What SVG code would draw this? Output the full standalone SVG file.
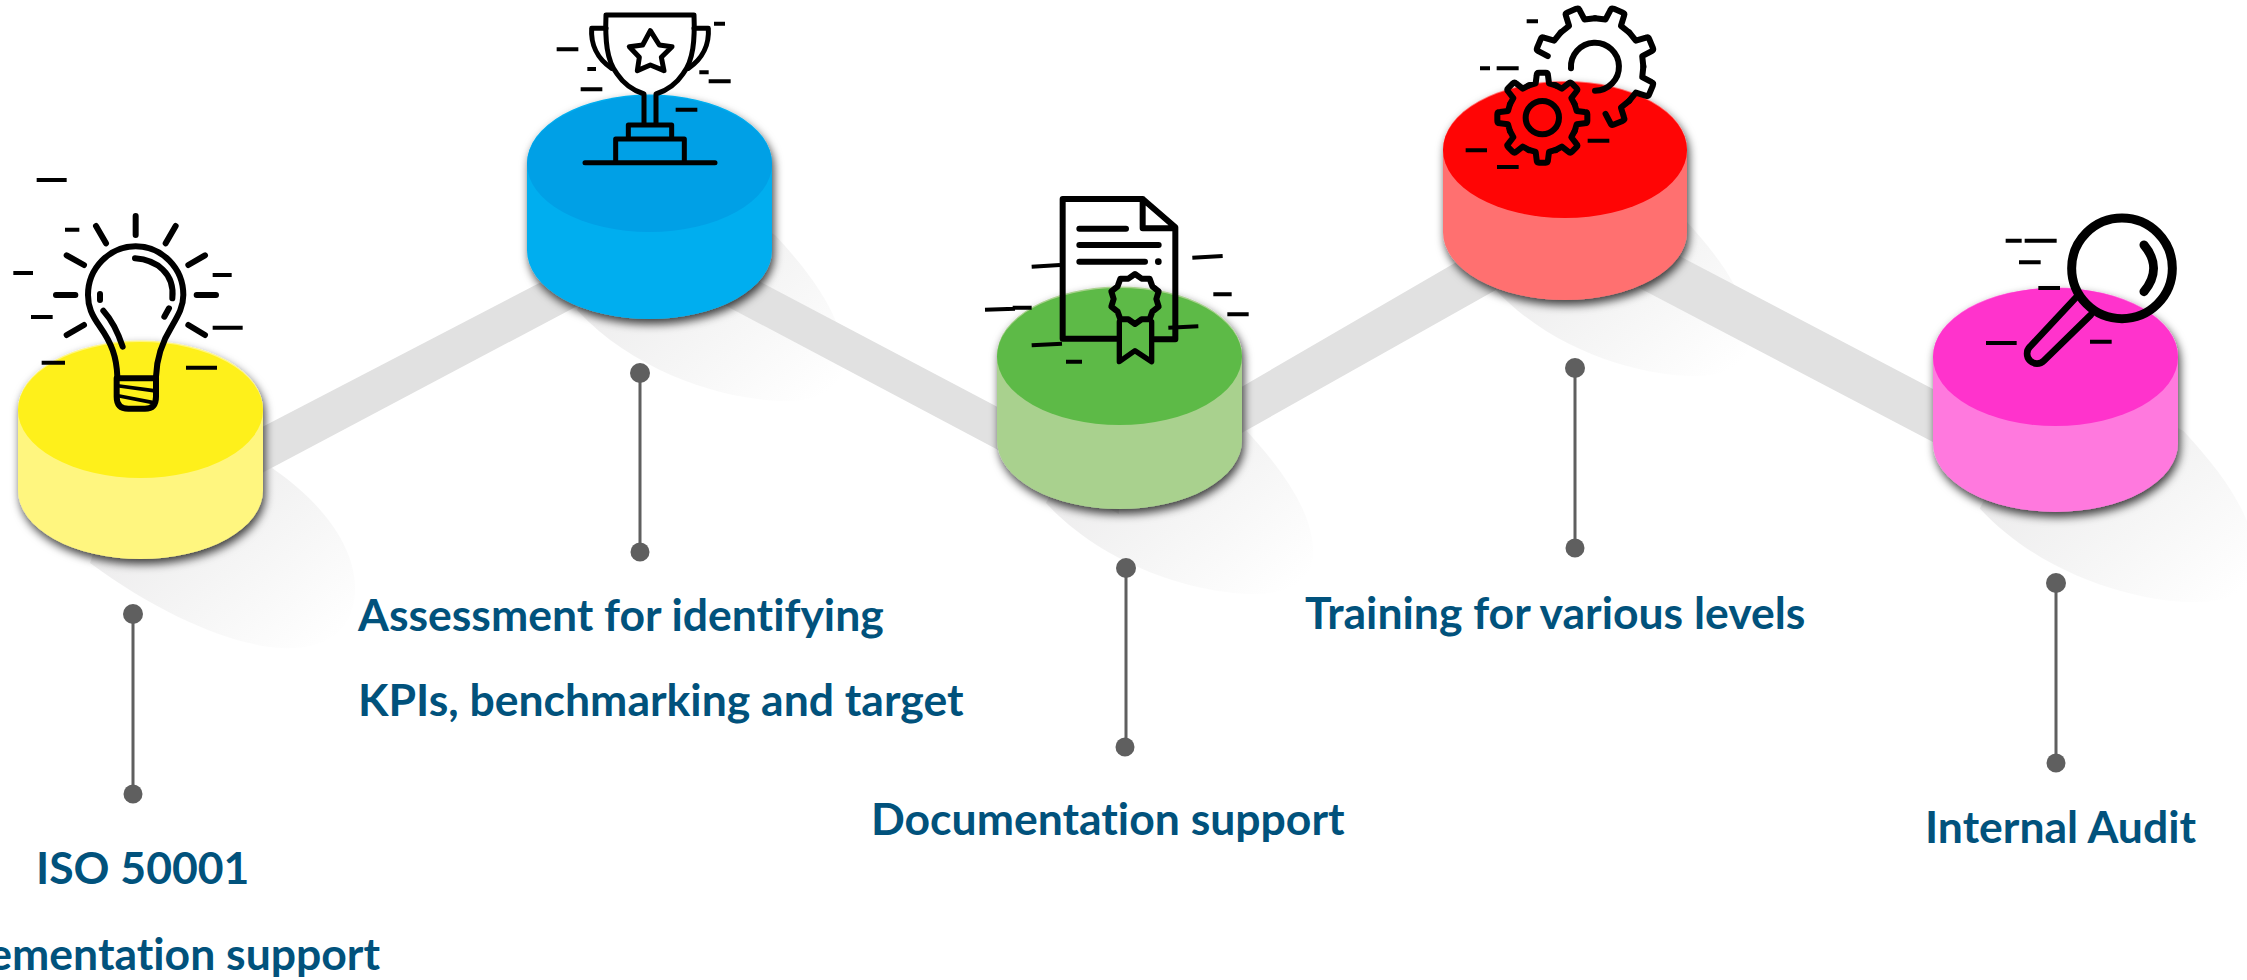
<svg xmlns="http://www.w3.org/2000/svg" width="2247" height="980" viewBox="0 0 2247 980">
<style>
.lbl{font-family:"Lato","Open Sans","Liberation Sans",sans-serif;font-weight:700;font-size:44.5px;fill:#01527c;font-variant-ligatures:none}
.band{fill:#e1e1e1}
.stem{stroke:#5f5f5f;stroke-width:3;fill:none}
.dot{fill:#5f5f5f}
.ic{fill:none;stroke:#000;stroke-linecap:round;stroke-linejoin:round}
.d{fill:none;stroke:#000;stroke-width:12;stroke-linecap:butt}
.body{filter:url(#cs)}
</style>
<defs>
<linearGradient id="sg" x1="0.2" y1="0.15" x2="0.95" y2="0.95"><stop offset="0" stop-color="#e9e8e9"/><stop offset="0.55" stop-color="#f5f5f5"/><stop offset="1" stop-color="#ffffff"/></linearGradient>
<filter id="cs" x="-15%" y="-15%" width="130%" height="135%"><feDropShadow dx="2" dy="5" stdDeviation="5" flood-color="#000" flood-opacity="0.75"/></filter>
<path id="sh1" d="M0 0L131 58C185 95 215 140 214 180C213 225 180 240 140 238C90 235 20 205 -51 153Z" fill="url(#sg)"/>
<path id="sh2" d="M0 0L125 72C165 115 192 155 194 192C196 225 172 238 135 238C85 238 -10 215 -73 147Z" fill="url(#sg)"/>
<path id="t1" d="M-40.2 -97L-20 -103L-17 -127Q-17 -135 -10 -135L10 -135Q17 -135 17 -127L20 -103L40.2 -97"/>
<path id="t2" d="M-55.5 -134L-25 -143L-22 -175Q-22 -182 -14 -182L14 -182Q22 -182 22 -175L25 -143L55.5 -134"/>
</defs>
<g id="shadows">
<use href="#sh1" x="141" y="410"/>
<use href="#sh2" x="650" y="163"/>
<use href="#sh2" x="1119" y="356"/>
<use href="#sh2" transform="translate(1565 150) scale(.95)"/>
<use href="#sh2" transform="translate(2055 357) scale(1.03)"/>
</g>
<g id="connectors">
<polygon class="band" points="141,490 649,226 649,268 141,537"/>
<polygon class="band" points="649,223 1119,471 1119,514 649,265"/>
<polygon class="band" points="1119,458 1565,199 1565,251 1119,502"/>
<polygon class="band" points="1565,196 2055,453 2055,506 1565,249"/>
<path class="stem" d="M133 614V794M640 373V552M1126 568V747M1575 368V548M2056 583V763"/>
<circle class="dot" cx="133" cy="614" r="10"/><circle class="dot" cx="133" cy="794" r="9.5"/>
<circle class="dot" cx="640" cy="373" r="10"/><circle class="dot" cx="640" cy="552" r="9.5"/>
<circle class="dot" cx="1126" cy="568" r="10"/><circle class="dot" cx="1125" cy="747" r="9.5"/>
<circle class="dot" cx="1575" cy="368" r="10"/><circle class="dot" cx="1575" cy="548" r="9.5"/>
<circle class="dot" cx="2056" cy="583" r="10"/><circle class="dot" cx="2056" cy="763" r="9.5"/>
</g>
<g id="node-iso">
<path class="body" d="M18 409A122.500 68.500 0 0 1 263 409V490.500A122.500 68.500 0 0 1 18 490.500Z" fill="#fff67f"/>
<ellipse cx="140.5" cy="410" rx="122.5" ry="68" fill="#fef01b"/>
<g transform="translate(0 150) scale(.33333)">
<g class="ic" stroke-width="18">
<path d="M352 680C350 620 335 580 300 530C275 495 264 470 264 435A143 146 0 0 1 550 435C550 470 535 495 515 530C490 570 470 620 468 680"/>
<path d="M350 685H468M350 685V740Q350 776 385 776H435Q468 776 468 740V685"/>
<path d="M407 198V255M288 228L318 280M527 228L497 280M200 316L252 345M615 316L565 345M168 435H226M590 435H648M200 555L252 525M615 555L565 525"/>
<path d="M405 325C470 330 525 370 517 445M300 432V450M507 475L493 500M310 482C340 515 355 550 368 590"/>
</g>
<path class="ic" stroke-width="11" d="M358 708L460 722M358 738L460 758"/>
<path class="d" d="M110 90H200M195 239H238M40 369H99M638 375H695M93 501H158M638 533H728M125 638H195M558 653H651"/>
</g>
<text class="lbl" x="36" y="884">ISO 50001</text>
<text class="lbl" x="380" y="970" text-anchor="end">ementation support</text>
</g>
<g id="node-assessment">
<path class="body" d="M527 163A122.500 68.500 0 0 1 772 163V250.500A122.500 68.500 0 0 1 527 250.500Z" fill="#00aeef"/>
<ellipse cx="649.5" cy="164" rx="122.5" ry="68" fill="#00a0e6"/>
<g transform="translate(500 0) scale(.33333)">
<g class="ic" stroke-width="15">
<path d="M318 45H582M318 45C315 120 320 180 350 220C370 250 395 270 432 282V372M582 45C585 120 580 180 550 220C530 250 505 270 468 282V372"/>
<path d="M318 85H275C272 130 290 175 335 205M582 85H625C628 130 610 175 565 205"/>
<path d="M385 412V375H515V412M347 488V417H553V488M255 488H645"/>
<path d="M451 92L478 135L516 140L484 172L492 212L451 195L412 212L418 172L388 140L428 135Z"/>
</g>
<path class="d" d="M170 148H235M642 71H675M262 207H288M598 217H626M626 244H692M242 268H307M527 329H592"/>
</g>
<text class="lbl" x="358" y="631">Assessment for identifying</text>
<text class="lbl" x="358" y="716">KPIs, benchmarking and target</text>
</g>
<g id="node-documentation">
<path class="body" d="M997 355A122.500 68.500 0 0 1 1242 355V440.500A122.500 68.500 0 0 1 997 440.500Z" fill="#a9d18e"/>
<ellipse cx="1119.5" cy="356.500" rx="122.5" ry="68.500" fill="#5dba47"/>
<g transform="translate(960 180) scale(.33333)">
<g class="ic" stroke-width="18">
<path d="M308 57H548L646 142V478H583M470 476H308V57M548 57V145H646"/>
<path d="M358 146H498M358 195H596M358 245H555"/>
</g>
<circle cx="595" cy="245" r="10"/>
<path class="ic" stroke-width="18" d="M525 282L545 296L569 296L577 319L596 334L589 357L596 380L577 395L569 418L545 418L525 432L505 418L481 418L473 395L454 380L461 357L454 334L473 319L481 296L505 296Z"/>
<path class="ic" stroke-width="16" d="M478 425V545L525 512L575 545V425"/>
<path class="d" stroke-width="11" d="M215 260L300 255M697 233L788 228M75 389L165 386M158 383H215M760 343H815M802 403H866M625 443L715 439M215 496L306 491M318 545H366"/>
</g>
<text class="lbl" x="871" y="835">Documentation support</text>
</g>
<g id="node-training">
<path class="body" d="M1443 149A122 68 0 0 1 1687 149V232A122 68 0 0 1 1443 232Z" fill="#ff7070"/>
<ellipse cx="1565" cy="150" rx="122" ry="68" fill="#ff0505"/>
<g transform="translate(1420 0) scale(.33333)">
<g class="ic" stroke-width="18">
<g transform="translate(525 200)">
<path transform="rotate(-67.500)" d="M-25 -143L-22 -175Q-22 -182 -14 -182L14 -182Q22 -182 22 -175L25 -143L55.5 -134"/>
<use href="#t2" transform="rotate(-22.500)"/>
<use href="#t2" transform="rotate(22.500)"/>
<use href="#t2" transform="rotate(67.500)"/>
<use href="#t2" transform="rotate(112.500)"/>
<path transform="rotate(157.500)" d="M-55.5 -134L-25 -143L-22 -175Q-22 -182 -14 -182L14 -182Q22 -182 22 -175L25 -143"/>
</g>
<path d="M453 205A72 72 0 1 1 525 272"/>
<g transform="translate(367 353)">
<use href="#t1"/><use href="#t1" transform="rotate(45)"/><use href="#t1" transform="rotate(90)"/><use href="#t1" transform="rotate(135)"/><use href="#t1" transform="rotate(180)"/><use href="#t1" transform="rotate(225)"/><use href="#t1" transform="rotate(270)"/><use href="#t1" transform="rotate(315)"/>
<circle r="50"/>
</g>
</g>
<path class="d" d="M320 64H354M180 205H210M230 205H296M503 422H568M137 451H201M231 501H296"/>
</g>
<text class="lbl" x="1305" y="629">Training for various levels</text>
</g>
<g id="node-audit">
<path class="body" d="M1933 356A122.500 68.500 0 0 1 2178 356V443.500A122.500 68.500 0 0 1 1933 443.500Z" fill="#ff79de"/>
<ellipse cx="2055.5" cy="357" rx="122.5" ry="69" fill="#ff33cc"/>
<g transform="translate(1900 200) scale(.33333)">
<g class="ic">
<circle cx="666" cy="205" r="151" stroke-width="27"/>
<path stroke-width="27" d="M732 135C770 180 770 230 732 275"/>
<path stroke-width="20" d="M530 290L390 440A27 27 0 0 0 432 482L572 345"/>
</g>
<path class="d" d="M317 122H365M374 122H470M357 187H422M415 264H480M258 429H350M570 425H635"/>
</g>
<text class="lbl" x="1925" y="843">Internal Audit</text>
</g>
</svg>
